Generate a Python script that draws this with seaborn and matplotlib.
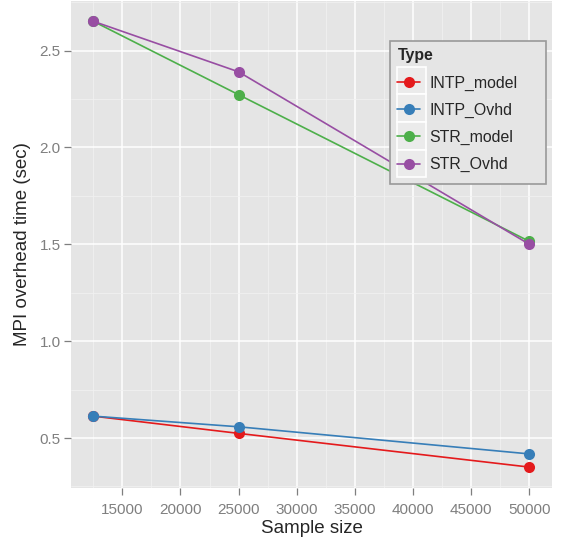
import matplotlib
matplotlib.use("Agg")
import matplotlib.pyplot as plt
from matplotlib.patches import Rectangle
from matplotlib.ticker import MultipleLocator
import pandas as pd
import seaborn as sns

# data
sample_size = [12500, 25000, 50000]
intp_model = [0.613, 0.524, 0.350]
intp_ovhd = [0.613, 0.558, 0.418]
str_model = [2.651, 2.272, 1.515]
str_ovhd = [2.651, 2.390, 1.500]
types = ["INTP_model", "INTP_Ovhd", "STR_model", "STR_Ovhd"]
colors = ["#E41A1C", "#377EB8", "#4DAF4A", "#984EA3"]

rows = []
for t, vals in zip(types, [intp_model, intp_ovhd, str_model, str_ovhd]):
    for x, y in zip(sample_size, vals):
        rows.append({"Sample size": x, "MPI overhead time (sec)": y, "Type": t})
df = pd.DataFrame(rows)

sns.set_theme(style="darkgrid", rc={
    "axes.facecolor": "#E5E5E5",
    "grid.color": "white",
    "axes.edgecolor": "#E5E5E5",
    "xtick.bottom": True,
    "ytick.left": True,
})
plt.rcParams["font.family"] = ["Liberation Sans", "DejaVu Sans"]

fig = plt.figure(figsize=(5.61, 5.42), dpi=100)
ax = fig.add_axes([0.1266, 0.0996, 0.8574, 0.8994])

pal = dict(zip(types, colors))
sns.lineplot(data=df, x="Sample size", y="MPI overhead time (sec)", hue="Type",
             palette=pal, marker="o", markersize=8, markeredgewidth=0,
             linewidth=1.2, ax=ax, legend=True)

ax.set_xlim(10589, 51952)
ax.set_ylim(0.242, 2.758)
ax.xaxis.set_major_locator(MultipleLocator(5000))
ax.xaxis.set_minor_locator(MultipleLocator(2500))
ax.yaxis.set_major_locator(MultipleLocator(0.5))
ax.yaxis.set_minor_locator(MultipleLocator(0.25))
ax.set_xticks([15000, 20000, 25000, 30000, 35000, 40000, 45000, 50000])
ax.grid(which="major", color="white", linewidth=1.1)
ax.grid(which="minor", color="#F2F2F2", linewidth=0.5)
ax.tick_params(which="major", length=5, width=0.9, color="#7F7F7F",
               labelcolor="#7F7F7F", labelsize=11, pad=2.5)
ax.tick_params(axis="x", which="major", pad=6)
ax.tick_params(which="minor", length=0)
ax.set_xlabel("Sample size", fontsize=13.5, labelpad=2)
ax.set_ylabel("MPI overhead time (sec)", fontsize=13.5, labelpad=6)
for s in ax.spines.values():
    s.set_visible(False)

# ggplot-like legend box (wider on the right than matplotlib pads it)
ax.add_patch(Rectangle((0.663, 0.6246), 0.3245, 0.2934, transform=ax.transAxes,
                       facecolor="#E5E5E5", edgecolor="#999999", linewidth=1.2,
                       zorder=5, clip_on=False))
# key backgrounds
for i in range(len(types)):
    yc = 0.836 - i * 0.0567
    ax.add_patch(Rectangle((0.6778, yc - 0.0283), 0.0603, 0.0567,
                           transform=ax.transAxes, facecolor="#EBEBEB",
                           edgecolor="white", linewidth=1.2, zorder=5.5))
leg = ax.legend(title="Type", loc="upper left", bbox_to_anchor=(0.667, 0.913),
                frameon=False, fontsize=11.4, title_fontsize=11.4,
                handlelength=1.45, handletextpad=0.57, borderpad=0.35,
                labelspacing=0.76, borderaxespad=0, alignment="left")
leg.set_zorder(6)
leg.get_title().set_fontweight("bold")

fig.savefig("out.png", dpi=100)
